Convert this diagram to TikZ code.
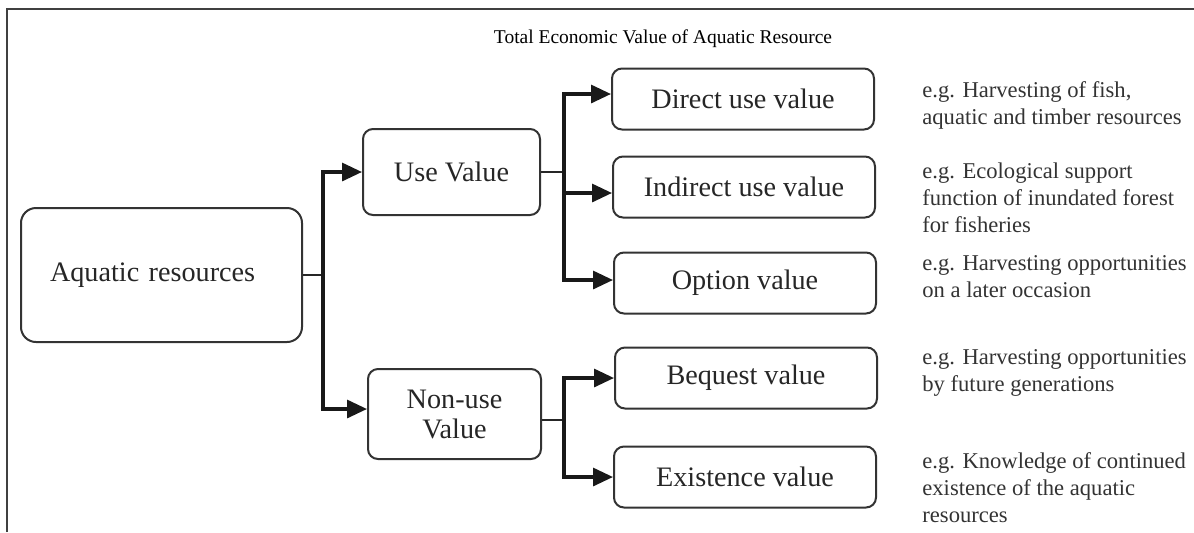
\documentclass[tikz,border=0pt]{standalone}
\usepackage{fontspec}
\setmainfont{Liberation Serif}
\usetikzlibrary{arrows.meta}

\tikzset{
  valbox/.style={draw=black!80, line width=1pt, rounded corners=5pt,
    minimum width=131pt, minimum height=30.5pt, inner sep=0pt,
    font=\fontsize{14.1}{15}\selectfont, text=black!85},
  note/.style={anchor=west, align=left, inner sep=0pt,
    font=\fontsize{11.3}{13.5}\selectfont, text=black!80},
  link/.style={line width=1pt, black!85},
  feed/.style={line width=1.6pt, black!90, -{Triangle[length=10pt,width=9pt]}},
}

\begin{document}
\begin{tikzpicture}[x=0.5pt,y=-0.5pt]
  \useasboundingbox (0,0) rectangle (1194,532);
  \draw[line width=1.1pt, black!75] (7,532) -- (7,9) -- (1194,9);

  \node[anchor=base, font=\fontsize{9.75}{11}\selectfont] (title) at (663,43)
    {Total Economic Value of Aquatic Resource};

  % boxes
  \node[valbox, rounded corners=7.5pt, minimum width=140.5pt, minimum height=67pt,
    text width=111.5pt, inner xsep=14.5pt, align=left] (aqua) at (161.5,275) {Aquatic resources};
  \node[valbox, minimum width=88.5pt, minimum height=43pt] (use) at (451.5,172) {Use Value};
  \node[valbox, minimum width=86.5pt, minimum height=45pt, align=center] (nonuse) at (454.5,414) {Non-use\\Value};

  \node[valbox] (direct)   at (743,99)  {Direct use value};
  \node[valbox] (indirect) at (744,187) {Indirect use value};
  \node[valbox] (option)   at (745,283) {Option value};
  \node[valbox] (bequest)  at (746,378) {Bequest value};
  \node[valbox] (exist)    at (745,477) {Existence value};

  % examples
  \node[note] (dnote) at (922,105) {e.g. Harvesting of fish,\\aquatic and timber resources};
  \node[note] (inote) at (922,198) {e.g. Ecological support\\function of inundated forest\\for fisheries};
  \node[note] (onote) at (922,277) {e.g. Harvesting opportunities\\on a later occasion};
  \node[note] (bnote) at (922,373) {e.g. Harvesting opportunities\\by future generations};
  \node[note] (enote) at (922,488) {e.g. Knowledge of continued\\existence of the aquatic\\resources};

  % connectors
  \draw[link] (aqua.east) -- ++(20,0) coordinate (aj);
  \draw[feed] (aj) |- (use.west);
  \draw[feed] (aj) |- ([yshift=2.5pt]nonuse.west);

  \draw[link] (use.east) -- ++(23,0) coordinate (uj);
  \draw[feed] (uj) |- ([yshift=2.5pt]direct.west);
  \draw[feed] (uj) |- ([yshift=-3pt]indirect.west);
  \draw[feed] (uj) |- ([yshift=1.5pt]option.west);

  \draw[link] ([yshift=-3pt]nonuse.east) -- ++(22,0) coordinate (nj);
  \draw[feed] (nj) |- (bequest.west);
  \draw[feed] (nj) |- (exist.west);
\end{tikzpicture}
\end{document}
